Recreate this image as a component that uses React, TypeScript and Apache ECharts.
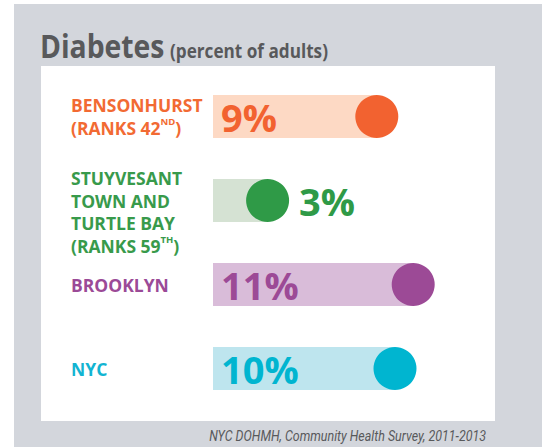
import React, { useEffect, useRef } from "react";
import * as echarts from "echarts";

// ---- data ----
const categoryLines: string[][] = [
  ["BENSONHURST"],
  ["STUYVESANT", "TOWN AND", "TURTLE BAY"],
  ["BROOKLYN"],
  ["NYC"],
];
const rankNumbers = ["42", "59", "", ""];
const rankSuffixes = ["ND", "TH", "", ""];
const values = [9, 3, 11, 10];
const colors = ["#f26230", "#2f9a47", "#9c4a96", "#00b5d0"];
const textColors = ["#f26a33", "#389a4b", "#9b4a97", "#12b4d2"];
const lightColors = ["#fdd9c4", "#d5e2d3", "#d9bcd9", "#bee5ee"];
const titleText = "Diabetes";
const subtitleText = "(percent of adults)";
const sourceText = "NYC DOHMH, Community Health Survey, 2011-2013";

const FONT = "'Open Sans', 'Noto Sans', sans-serif";

export default function App() {
  const ref = useRef<HTMLDivElement>(null);

  useEffect(() => {
    if (!ref.current) return;
    const chart = echarts.init(ref.current, undefined, { renderer: "svg" });

    const rich: Record<string, any> = {
      gap: { fontSize: 10, lineHeight: 23 },
    };
    textColors.forEach((c, i) => {
      rich["t" + i] = {
        color: c,
        fontSize: 17.5,
        fontWeight: "bold",
        fontFamily: FONT,
        lineHeight: 22.5,
      };
      rich["s" + i] = {
        color: c,
        fontSize: 9.5,
        fontWeight: "bold",
        fontFamily: FONT,
        lineHeight: 12,
        verticalAlign: "top",
      };
    });

    const labelFormatter = (_v: string, i: number) => {
      const lines = categoryLines[i].map((l) => `{t${i}|${l}}`);
      if (rankNumbers[i]) {
        lines.push(`{t${i}|(RANKS ${rankNumbers[i]}}{s${i}|${rankSuffixes[i]}}{t${i}|)}`);
      }
      if (lines.length > 2) lines.unshift("{gap| }");
      return lines.join("\n");
    };

    const names = categoryLines.map((l) => l.join(" "));

    chart.setOption({
      animation: false,
      backgroundColor: "#ffffff",
      graphic: [
        {
          type: "rect",
          z: -10,
          shape: { x: 14, y: 4, width: 540, height: 450 },
          style: { fill: "#d3d6dc" },
          silent: true,
        },
        {
          type: "rect",
          z: -9,
          shape: { x: 41, y: 66, width: 454, height: 355 },
          style: { fill: "#ffffff" },
          silent: true,
        },
        {
          type: "text",
          x: 40,
          y: 46,
          scaleX: 0.885,
          style: {
            text: titleText,
            font: `bold 32px ${FONT}`,
            fill: "#58595b",
            align: "left",
            verticalAlign: "middle",
          },
        },
        {
          type: "text",
          x: 170,
          y: 50,
          scaleX: 0.88,
          style: {
            text: subtitleText,
            font: `bold 19.5px ${FONT}`,
            fill: "#58595b",
            align: "left",
            verticalAlign: "middle",
          },
        },
        {
          type: "text",
          x: 486,
          y: 436,
          scaleX: 0.83,
          style: {
            text: sourceText,
            font: `italic 15px 'Roboto', 'Open Sans', sans-serif`,
            fill: "#58595b",
            align: "right",
            verticalAlign: "middle",
          },
        },
      ],
      grid: { left: 213, right: 56, top: 74.5, bottom: 36.5, containLabel: false },
      xAxis: {
        type: "value",
        min: 0,
        max: 15,
        show: false,
      },
      yAxis: {
        type: "category",
        inverse: true,
        data: names,
        axisLine: { show: false },
        axisTick: { show: false },
        splitLine: { show: false },
        axisLabel: {
          align: "left",
          margin: 142,
          formatter: labelFormatter,
          rich,
        },
      },
      series: [
        {
          type: "bar",
          barWidth: 43,
          z: 2,
          data: values.map((v, i) => ({
            value: v,
            itemStyle: { color: lightColors[i] },
            label: { show: i !== 1, color: colors[i] },
          })),
          label: {
            position: "insideLeft",
            distance: 8,
            formatter: "{c}%",
            fontSize: 38,
            fontWeight: "bold",
            fontFamily: FONT,
          },
        },
        {
          type: "scatter",
          symbol: "circle",
          symbolSize: 43,
          z: 3,
          data: values.map((v, i) => ({
            value: [v, i],
            itemStyle: { color: colors[i], opacity: 1 },
            label: { show: i === 1, color: colors[i] },
          })),
          label: {
            position: "right",
            distance: 10,
            formatter: (p: any) => `${p.value[0]}%`,
            fontSize: 38,
            fontWeight: "bold",
            fontFamily: FONT,
          },
        },
      ],
    });

    return () => chart.dispose();
  }, []);

  return (
    <div
      ref={ref}
      style={{ position: "absolute", left: 0, top: 0, width: 542, height: 447 }}
    />
  );
}
